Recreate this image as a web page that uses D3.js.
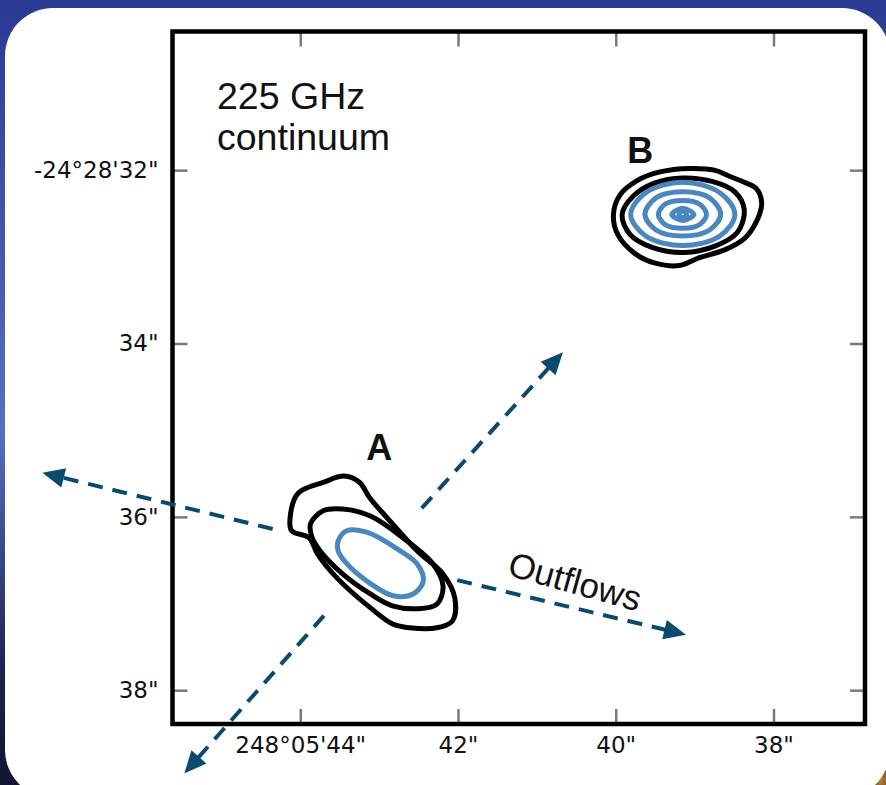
<!DOCTYPE html>
<html>
<head>
<meta charset="utf-8">
<script src="https://cdn.jsdelivr.net/npm/d3@7"></script>
<style>
  html, body { margin: 0; padding: 0; background: #1d2a6e; }
  svg { display: block; }
</style>
</head>
<body>
<div id="chart"></div>
<script>
// axis ticks (arcsec offsets of RA 248°05' and Dec -24°28')
var raTicks = [44, 42, 40, 38];
var raTickLabels = ["248°05'44\"", "42\"", "40\"", "38\""];
var decTicks = [32, 34, 36, 38];
var decTickLabels = ["-24°28'32\"", "34\"", "36\"", "38\""];

// contour levels, points as [ra", dec"]
var contourA_low = [[44.13,36.02],[44.03,35.73],[43.70,35.60],[43.45,35.53],[43.25,35.60],[43.12,35.78],
  [42.90,36.01],[42.52,36.39],[42.19,36.66],[42.04,36.94],[42.07,37.20],[42.27,37.28],[42.61,37.28],
  [42.82,37.24],[43.11,37.05],[43.53,36.71],[43.78,36.43],[43.89,36.24],[44.11,36.16]];
var contourA_mid = [[43.87,36.08],[43.71,35.93],[43.46,35.91],[43.11,35.99],[42.70,36.24],[42.32,36.54],
  [42.19,36.80],[42.27,37.01],[42.52,37.06],[42.82,37.03],[43.11,36.89],[43.46,36.66],[43.75,36.39],[43.85,36.24]];
var contourA_high = [[43.52,36.28],[43.41,36.16],[43.15,36.18],[42.77,36.37],[42.52,36.54],[42.44,36.74],
  [42.57,36.89],[42.82,36.91],[43.11,36.77],[43.41,36.54],[43.52,36.39]];

var contourB_low = [[40.03,32.52],[39.95,32.29],[39.73,32.12],[39.44,32.02],[39.06,31.98],[38.75,32.00],
  [38.56,32.07],[38.37,32.14],[38.22,32.21],[38.15,32.38],[38.22,32.60],[38.37,32.79],[38.62,32.92],
  [38.94,33.01],[39.19,33.10],[39.51,33.07],[39.76,32.96],[39.97,32.75]];
var contourB_mid = [[39.92,32.51],[39.78,32.30],[39.51,32.15],[39.15,32.09],[38.78,32.13],[38.49,32.25],
  [38.37,32.46],[38.46,32.72],[38.75,32.88],[39.13,32.95],[39.54,32.89],[39.82,32.74]];
var contourB_high1 = [[39.81,32.51],[39.62,32.26],[39.15,32.14],[38.68,32.26],[38.49,32.51],[38.68,32.76],[39.15,32.87],[39.62,32.76]];
var contourB_high2 = [[39.63,32.51],[39.49,32.32],[39.15,32.25],[38.81,32.32],[38.67,32.51],[38.81,32.69],[39.15,32.76],[39.49,32.69]];
var contourB_high3 = [[39.46,32.51],[39.37,32.39],[39.15,32.35],[38.94,32.39],[38.85,32.51],[38.94,32.63],[39.15,32.67],[39.37,32.63]];
var contourB_high4 = [[39.29,32.51],[39.15,32.44],[39.01,32.51],[39.15,32.58]];
var contourB_high5 = [[39.20,32.51],[39.15,32.47],[39.10,32.51],[39.15,32.55]];

// outflow arrows: [start, tip]
var outflows = [
  [[42.46,35.90],[40.67,34.10]],
  [[43.70,37.14],[45.47,38.96]],
  [[44.35,36.14],[47.27,35.49]],
  [[42.01,36.73],[39.11,37.36]]
];

var W = 886, H = 785;
var svg = d3.select("#chart").append("svg").attr("width", W).attr("height", H);

var defs = svg.append("defs");
var sky = defs.append("linearGradient").attr("id", "sky").attr("x1", 0).attr("y1", 0).attr("x2", 0).attr("y2", 1);
sky.append("stop").attr("offset", "0%").attr("stop-color", "#2a3a93");
sky.append("stop").attr("offset", "55%").attr("stop-color", "#5a6dc0");
sky.append("stop").attr("offset", "85%").attr("stop-color", "#1c2352");
sky.append("stop").attr("offset", "100%").attr("stop-color", "#121530");
var glow = defs.append("radialGradient").attr("id", "glow");
glow.append("stop").attr("offset", "0%").attr("stop-color", "#c8822a");
glow.append("stop").attr("offset", "100%").attr("stop-color", "#1a1d40").attr("stop-opacity", 0);

svg.append("rect").attr("width", W).attr("height", H).attr("fill", "url(#sky)");
svg.append("circle").attr("cx", 880).attr("cy", 780).attr("r", 40).attr("fill", "url(#glow)");
svg.append("rect").attr("x", 5).attr("y", 8).attr("width", 885).attr("height", 790).attr("rx", 48).attr("fill", "#fff");

var x = d3.scaleLinear().domain([45.62, 36.84]).range([172.5, 865]);
var y = d3.scaleLinear().domain([30.40, 38.39]).range([31.5, 724]);

var g = svg.append("g");

function styleAxis(sel) {
  sel.select(".domain").remove();
  sel.selectAll(".tick line").attr("stroke", "#7a7a7a").attr("stroke-width", 2.5);
  sel.selectAll(".tick text").attr("fill", "#111").attr("font-family", "DejaVu Sans").attr("font-size", 23);
}

g.append("g").attr("transform", "translate(0," + y.range()[1] + ")")
  .call(d3.axisBottom(x).tickValues(raTicks).tickSizeInner(-15).tickSizeOuter(0).tickPadding(13)
    .tickFormat(function (d, i) { return raTickLabels[i]; }))
  .call(styleAxis);
g.append("g").attr("transform", "translate(0," + y.range()[0] + ")")
  .call(d3.axisTop(x).tickValues(raTicks).tickSizeInner(-15).tickSizeOuter(0).tickFormat(""))
  .call(styleAxis);
g.append("g").attr("transform", "translate(" + x.range()[0] + ",0)")
  .call(d3.axisLeft(y).tickValues(decTicks).tickSizeInner(-15).tickSizeOuter(0).tickPadding(14)
    .tickFormat(function (d, i) { return decTickLabels[i]; }))
  .call(styleAxis);
g.append("g").attr("transform", "translate(" + x.range()[1] + ",0)")
  .call(d3.axisRight(y).tickValues(decTicks).tickSizeInner(-15).tickSizeOuter(0).tickFormat(""))
  .call(styleAxis);

// frame
g.append("rect")
  .attr("x", x.range()[0]).attr("y", y.range()[0])
  .attr("width", x.range()[1] - x.range()[0]).attr("height", y.range()[1] - y.range()[0])
  .attr("fill", "none").attr("stroke", "#000").attr("stroke-width", 4.5);

var line = d3.line()
  .x(function (d) { return x(d[0]); })
  .y(function (d) { return y(d[1]); })
  .curve(d3.curveCatmullRomClosed.alpha(0.5));

var contours = [
  { pts: contourA_low, color: "#000" },
  { pts: contourA_mid, color: "#000" },
  { pts: contourA_high, color: "#4a87bf" },
  { pts: contourB_low, color: "#000" },
  { pts: contourB_mid, color: "#000" },
  { pts: contourB_high1, color: "#4a87bf" },
  { pts: contourB_high2, color: "#4a87bf" },
  { pts: contourB_high3, color: "#4a87bf" },
  { pts: contourB_high4, color: "#4a87bf" },
  { pts: contourB_high5, color: "#4a87bf" }
];
g.selectAll("path.contour").data(contours).enter().append("path")
  .attr("class", "contour")
  .attr("d", function (d) { return line(d.pts); })
  .attr("fill", "none")
  .attr("stroke", function (d) { return d.color; })
  .attr("stroke-width", 5)
  .attr("stroke-linejoin", "round");

// outflow arrows
var arrowColor = "#0b4a6f";
outflows.forEach(function (a) {
  var x0 = x(a[0][0]), y0 = y(a[0][1]), x1 = x(a[1][0]), y1 = y(a[1][1]);
  var dx = x1 - x0, dy = y1 - y0, len = Math.sqrt(dx * dx + dy * dy);
  var ux = dx / len, uy = dy / len;
  var hl = 22, hw = 10;
  var bx = x1 - ux * hl, by = y1 - uy * hl;
  g.append("line")
    .attr("x1", x0).attr("y1", y0).attr("x2", bx + ux * 2).attr("y2", by + uy * 2)
    .attr("stroke", arrowColor).attr("stroke-width", 4)
    .attr("stroke-dasharray", "15,10");
  g.append("path")
    .attr("d", "M" + x1 + "," + y1 + "L" + (bx - uy * hw) + "," + (by + ux * hw) + "L" + (bx + uy * hw) + "," + (by - ux * hw) + "Z")
    .attr("fill", arrowColor);
});

// annotations
var font = "'Liberation Sans', Arial, sans-serif";
var label = g.append("text").attr("x", 217).attr("y", 109)
  .attr("font-family", font).attr("font-size", 37.5).attr("fill", "#111");
label.append("tspan").attr("x", 217).text("225 GHz");
label.append("tspan").attr("x", 217).attr("dy", 41).text("continuum");

g.append("text").attr("x", x(39.69)).attr("y", y(31.92))
  .attr("text-anchor", "middle").attr("font-family", font).attr("font-weight", "bold")
  .attr("font-size", 36).attr("fill", "#111").text("B");
g.append("text").attr("x", x(43.00)).attr("y", y(35.34))
  .attr("text-anchor", "middle").attr("font-family", font).attr("font-weight", "bold")
  .attr("font-size", 36).attr("fill", "#111").text("A");

var ox = x(41.39), oy = y(36.67);
g.append("text").attr("transform", "translate(" + ox + "," + oy + ") rotate(15.5)")
  .attr("font-family", font).attr("font-size", 35).attr("fill", "#111").text("Outflows");
</script>
</body>
</html>
